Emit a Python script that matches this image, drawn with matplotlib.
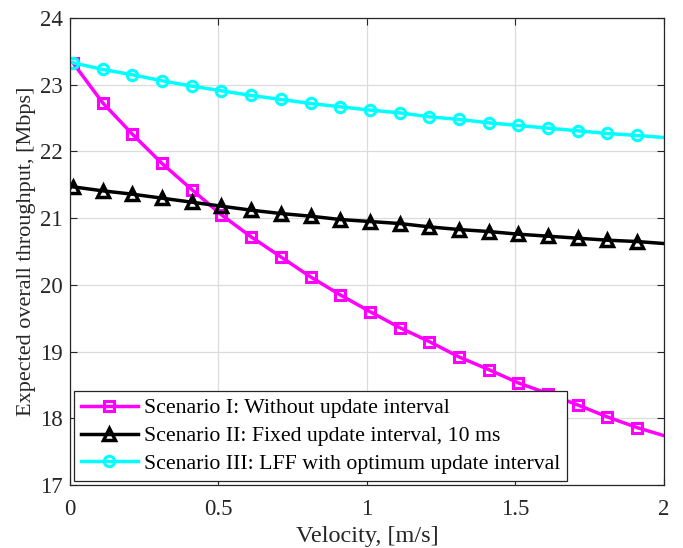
import matplotlib.pyplot as plt
import numpy as np

plt.rcParams['font.family'] = ['Liberation Serif', 'DejaVu Serif']
plt.rcParams['mathtext.fontset'] = 'stix'

# velocity samples (markers every 0.1 m/s, curve runs to 2 m/s)
velocity = [0.01, 0.11, 0.21, 0.31, 0.41, 0.51, 0.61, 0.71, 0.81, 0.91,
            1.01, 1.11, 1.21, 1.31, 1.41, 1.51, 1.61, 1.71, 1.81, 1.91, 2.0]

thr_no_update = [23.33, 22.73, 22.26, 21.82, 21.43, 21.05, 20.72, 20.42, 20.12, 19.85,
                 19.60, 19.36, 19.15, 18.92, 18.73, 18.53, 18.37, 18.20, 18.02, 17.86, 17.74]
thr_fixed = [21.47, 21.41, 21.36, 21.30, 21.24, 21.18, 21.12, 21.07, 21.03, 20.98,
             20.95, 20.92, 20.87, 20.83, 20.80, 20.76, 20.73, 20.70, 20.67, 20.65, 20.62]
thr_lff = [23.33, 23.23, 23.15, 23.06, 22.98, 22.91, 22.84, 22.78, 22.72, 22.67,
           22.62, 22.58, 22.52, 22.48, 22.43, 22.39, 22.35, 22.31, 22.27, 22.24, 22.21]

labels = ["Scenario I: Without update interval",
          "Scenario II: Fixed update interval, 10 ms",
          "Scenario III: LFF with optimum update interval"]

fig = plt.figure(figsize=(6.83, 5.48), dpi=100)
ax = fig.add_axes([0.1025, 0.115, 0.8695, 0.852])

marks = list(range(len(velocity) - 1))
ax.plot(velocity, thr_no_update, color='#ff00ff', lw=2.5, marker='s', ms=7, mew=2.2,
        mfc='none', markevery=marks, label=labels[0])
ax.plot(velocity, thr_fixed, color='black', lw=2.5, marker='^', ms=8.5, mew=2.5,
        mfc='none', markevery=marks, label=labels[1])
ax.plot(velocity, thr_lff, color='#00ffff', lw=2.5, marker='o', ms=7.5, mew=2.2,
        mfc='none', markevery=marks, label=labels[2])

ax.set_xlim(0, 2)
ax.set_ylim(17, 24)
ax.set_xticks([0, 0.5, 1, 1.5, 2])
ax.set_xticklabels(['0', '0.5', '1', '1.5', '2'])
ax.set_yticks(np.arange(17, 25))
ax.grid(True, color='#dcdcdc', lw=0.9)
ax.set_axisbelow(True)
ax.tick_params(direction='in', top=True, right=True, labelsize=16.5, colors='#262626',
               length=5)
ax.tick_params(axis='x', pad=10)
ax.tick_params(axis='y', pad=5)
for s in ax.spines.values():
    s.set_color('#262626')
    s.set_linewidth(0.9)

ax.set_xlabel('Velocity, [m/s]', fontsize=17.5, color='#262626')
ax.set_ylabel('Expected overall throughput, [Mbps]', fontsize=16, color='#262626')
ax.xaxis.set_label_coords(0.5, -0.088)
ax.yaxis.set_label_coords(-0.058, 0.5)

leg = ax.legend(loc='lower left', fontsize=15.7, fancybox=False, framealpha=1,
                edgecolor='#262626', handlelength=2.6, handletextpad=0.3,
                borderaxespad=0.2, borderpad=0.3, labelspacing=0.35)
leg.get_frame().set_linewidth(0.9)

fig.savefig('out.png', dpi=100)
